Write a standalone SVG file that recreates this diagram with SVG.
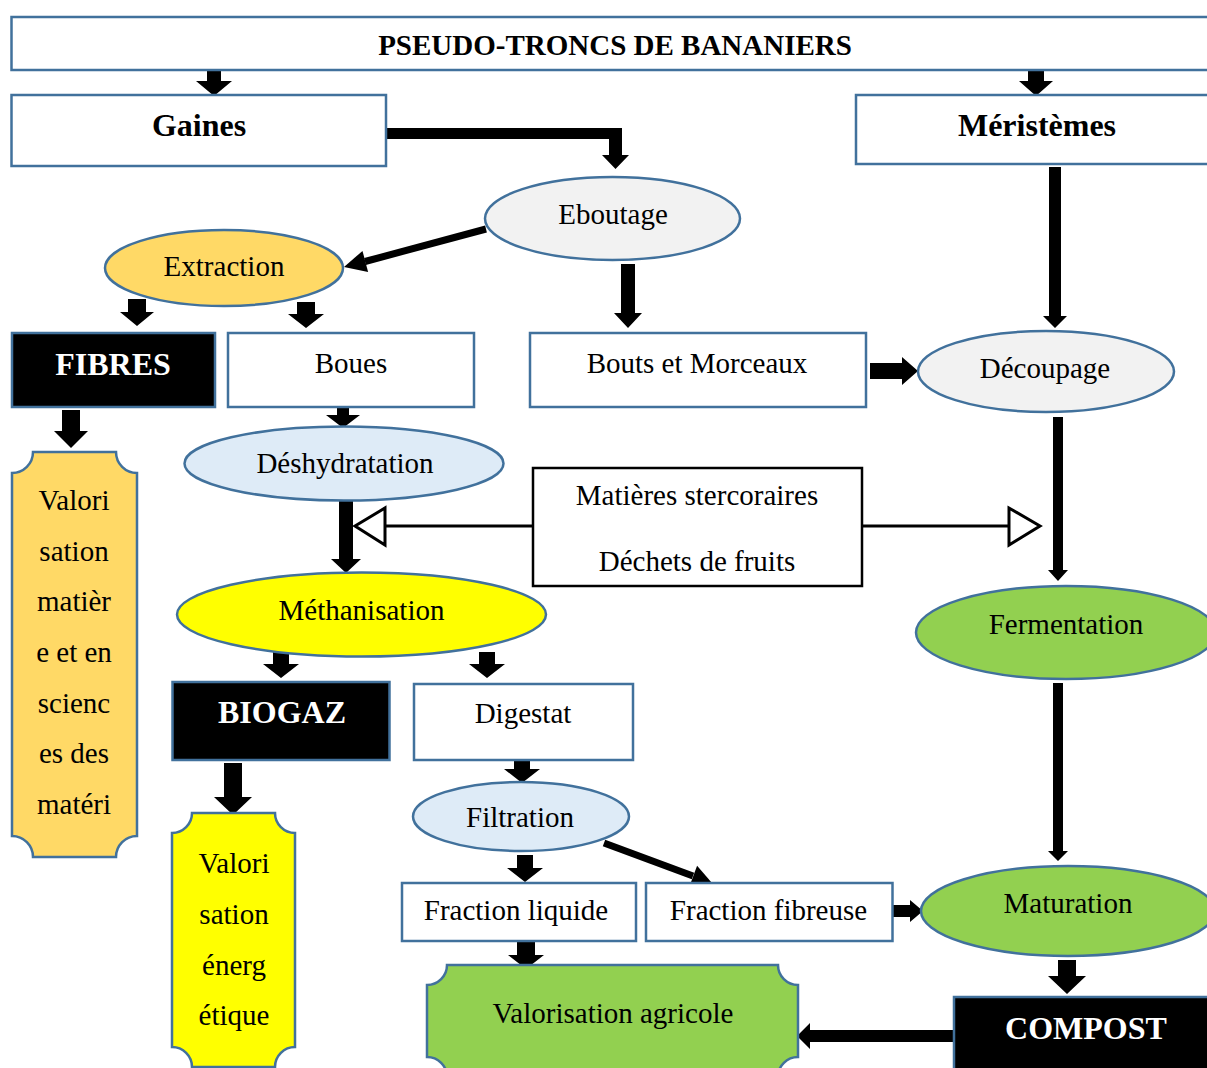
<svg xmlns="http://www.w3.org/2000/svg" width="1207" height="1068" viewBox="0 0 1207 1068">
<style>
.bx{fill:#fff;stroke:#41719c;stroke-width:2.5}
.bk{fill:#000;stroke:#41719c;stroke-width:2.5}
.el{stroke:#41719c;stroke-width:2.5}
.t{font-family:"Liberation Serif","Times New Roman",serif;font-size:29px;fill:#000;text-anchor:middle}
.b{font-family:"Liberation Serif","Times New Roman",serif;font-size:32px;font-weight:bold;fill:#000;text-anchor:middle}
.w{fill:#fff}
.arr{fill:#000}
.ln{stroke:#000;fill:none}
</style>
<rect width="1207" height="1068" fill="#fff"/>
<g id="connectors">
<polygon class="arr" points="207,69 221,69 221,81 232,81 214,96 196,81 207,81"/>
<polygon class="arr" points="1028,69 1044,69 1044,81 1053,81 1036,96 1019,81 1028,81"/>
<polygon class="arr" points="386,128 622,128 622,155 629,155 615.5,169 602,155 609,155 609,139 386,139"/>
<line class="ln" x1="486" y1="229" x2="365" y2="261.5" stroke-width="7"/>
<polygon class="arr" points="344,267 368.1,272.1 362.5,250.9"/>
<polygon class="arr" points="621,264 635,264 635,313 642,313 628,328 614,313 621,313"/>
<polygon class="arr" points="1049,167 1061,167 1061,316 1067,316 1055,328 1043,316 1049,316"/>
<polygon class="arr" points="128,299 146,299 146,312 154,312 137,326 120,312 128,312"/>
<polygon class="arr" points="297,302 315,302 315,314 324,314 306,328 288,314 297,314"/>
<polygon class="arr" points="870,363 902,363 902,357 918,371 902,385 902,379 870,379"/>
<polygon class="arr" points="337,402 349,402 349,415 360,415 343,428 326,415 337,415"/>
<polygon class="arr" points="62,410 80,410 80,431 88,431 71,448 54,431 62,431"/>
<polygon class="arr" points="339,497 353,497 353,559 361,559 346,573 331,559 339,559"/>
<line class="ln" x1="533" y1="526" x2="385" y2="526" stroke-width="3"/>
<polygon points="385,508 385,545 355,526" fill="#fff" stroke="#000" stroke-width="3"/>
<line class="ln" x1="862" y1="526" x2="1009" y2="526" stroke-width="3"/>
<polygon points="1009,508 1009,545 1040,526" fill="#fff" stroke="#000" stroke-width="3"/>
<polygon class="arr" points="1053,417 1063,417 1063,570 1068,570 1058,581 1048,570 1053,570"/>
<polygon class="arr" points="273,652 289,652 289,664 299,664 281,678 263,664 273,664"/>
<polygon class="arr" points="479,652 495,652 495,664 505,664 487,678 469,664 479,664"/>
<polygon class="arr" points="224,763 242,763 242,797 252,797 233,815 214,797 224,797"/>
<polygon class="arr" points="514,757 530,757 530,769 540,769 522,783 504,769 514,769"/>
<polygon class="arr" points="517,855 533,855 533,868 543,868 525,882 507,868 517,868"/>
<line class="ln" x1="604" y1="843" x2="693" y2="876" stroke-width="7"/>
<polygon class="arr" points="712,883 689.4,886.4 697.1,865.7"/>
<polygon class="arr" points="1053,683 1063,683 1063,851 1068,851 1058,861 1048,851 1053,851"/>
<polygon class="arr" points="891,905 910,905 910,900 923,911 910,922 910,917 891,917"/>
<polygon class="arr" points="517,942 535,942 535,955 544,955 526,969 508,955 517,955"/>
<polygon class="arr" points="1058,960 1076,960 1076,976 1086,976 1067,994 1048,976 1058,976"/>
<polygon class="arr" points="954,1030 810,1030 810,1023 797,1036 810,1049 810,1042 954,1042"/>
</g>
<g id="title"><rect class="bx" x="11.5" y="17" width="1220" height="53"/><text class="b" x="615" y="55" style="font-size:29px">PSEUDO-TRONCS DE BANANIERS</text></g>
<g id="gaines"><rect class="bx" x="11.5" y="95" width="374.5" height="71"/><text class="b" x="199" y="136">Gaines</text></g>
<g id="meristemes"><rect class="bx" x="856" y="95" width="380" height="69"/><text class="b" x="1037" y="136">Méristèmes</text></g>
<g id="eboutage"><ellipse class="el" cx="612.5" cy="218.5" rx="127.5" ry="41.5" fill="#f2f2f2"/><text class="t" x="613" y="224">Eboutage</text></g>
<g id="extraction"><ellipse class="el" cx="224" cy="268" rx="119" ry="38" fill="#ffd966"/><text class="t" x="224" y="276">Extraction</text></g>
<g id="fibres"><rect class="bk" x="12" y="333" width="203" height="74"/><text class="b w" x="113" y="375">FIBRES</text></g>
<g id="boues"><rect class="bx" x="228" y="333" width="246" height="74"/><text class="t" x="351" y="373">Boues</text></g>
<g id="bouts"><rect class="bx" x="530" y="333" width="336" height="74"/><text class="t" x="697" y="373">Bouts et Morceaux</text></g>
<g id="decoupage"><ellipse class="el" cx="1046" cy="371.5" rx="128" ry="40.5" fill="#f2f2f2"/><text class="t" x="1045" y="378">Découpage</text></g>
<g id="valori-matiere"><path class="el" fill="#ffd966" d="M33,452 H116 A21,21 0 0 0 137,473 V836 A21,21 0 0 0 116,857 H33 A21,21 0 0 0 12,836 V473 A21,21 0 0 0 33,452 Z"/>
<text class="t" x="74" y="510">Valori</text><text class="t" x="74" y="561">sation</text><text class="t" x="74" y="611">matièr</text><text class="t" x="74" y="662">e et en</text><text class="t" x="74" y="713">scienc</text><text class="t" x="74" y="763">es des</text><text class="t" x="74" y="814">matéri</text></g>
<g id="deshydratation"><ellipse class="el" cx="344" cy="463.5" rx="159.5" ry="37" fill="#deebf7"/><text class="t" x="345" y="473">Déshydratation</text></g>
<g id="matieres"><rect x="533" y="468" width="329" height="118" fill="#fff" stroke="#000" stroke-width="2.5"/><text class="t" x="697" y="505">Matières stercoraires</text><text class="t" x="697" y="571">Déchets de fruits</text></g>
<g id="methanisation"><ellipse class="el" cx="361.5" cy="614.5" rx="184.5" ry="42" fill="#ffff00"/><text class="t" x="361.5" y="620">Méthanisation</text></g>
<g id="fermentation"><ellipse class="el" cx="1066" cy="632.5" rx="150" ry="46.5" fill="#92d050"/><text class="t" x="1066" y="634">Fermentation</text></g>
<g id="biogaz"><rect class="bk" x="172.5" y="682" width="217" height="78"/><text class="b w" x="282" y="723">BIOGAZ</text></g>
<g id="digestat"><rect class="bx" x="414" y="684" width="219" height="76"/><text class="t" x="523" y="723">Digestat</text></g>
<g id="valori-energetique"><path class="el" fill="#ffff00" d="M192,813 H275 A20,20 0 0 0 295,833 V1047 A20,20 0 0 0 275,1067 H192 A20,20 0 0 0 172,1047 V833 A20,20 0 0 0 192,813 Z"/>
<text class="t" x="234" y="873">Valori</text><text class="t" x="234" y="924">sation</text><text class="t" x="234" y="975">énerg</text><text class="t" x="234" y="1025">étique</text></g>
<g id="filtration"><ellipse class="el" cx="521" cy="816.5" rx="108" ry="34.5" fill="#deebf7"/><text class="t" x="520" y="827">Filtration</text></g>
<g id="fraction-liquide"><rect class="bx" x="402" y="883" width="234" height="58"/><text class="t" x="516" y="920">Fraction liquide</text></g>
<g id="fraction-fibreuse"><rect class="bx" x="646" y="883" width="246.5" height="58"/><text class="t" x="768.5" y="920">Fraction fibreuse</text></g>
<g id="maturation"><ellipse class="el" cx="1068" cy="911" rx="147" ry="45" fill="#92d050"/><text class="t" x="1068" y="913">Maturation</text></g>
<g id="valorisation-agricole"><path class="el" fill="#92d050" d="M447,965 H778 A20,20 0 0 0 798,985 V1057 A20,20 0 0 0 778,1077 H447 A20,20 0 0 0 427,1057 V985 A20,20 0 0 0 447,965 Z"/><text class="t" x="613" y="1023">Valorisation agricole</text></g>
<g id="compost"><rect class="bk" x="954" y="997" width="280" height="90"/><text class="b w" x="1086" y="1039">COMPOST</text></g>
</svg>
